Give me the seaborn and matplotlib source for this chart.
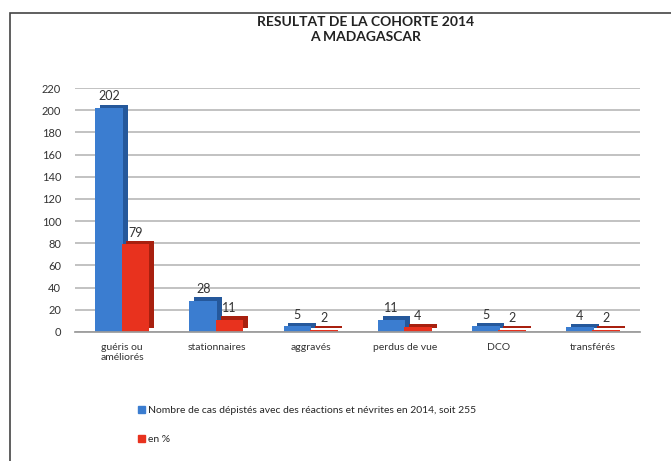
import numpy as np
import pandas as pd
import matplotlib
matplotlib.use("Agg")
import matplotlib.pyplot as plt
import matplotlib.patheffects as pe
from matplotlib.patches import Rectangle
import seaborn as sns

categories = ["guéris ou\naméliorés", "stationnaires", "aggravés", "perdus de vue", "DCO", "transférés"]
nombre_cas = [202, 28, 5, 11, 5, 4]
pourcent = [79, 11, 2, 4, 2, 2]
series_names = ["Nombre de cas dépistés avec des réactions et névrites en 2014, soit 255", "en %"]
yticks = list(range(0, 221, 20))

colors = ["#3b7dd0", "#e8321e"]
side_colors = ["#25589b", "#a8200f"]

df = pd.DataFrame({
    "categorie": categories * 2,
    "valeur": nombre_cas + pourcent,
    "serie": [series_names[0]] * len(categories) + [series_names[1]] * len(categories),
})

sns.set_theme(style="white")
plt.rcParams["font.family"] = ["Lato", "DejaVu Sans"]

fig = plt.figure(figsize=(6.71, 4.61), dpi=100)
ax = fig.add_axes([0.112, 0.28, 0.842, 0.529])

sns.barplot(data=df, x="categorie", y="valeur", hue="serie", palette=colors,
            width=0.56, gap=-0.05, ax=ax, legend=False, saturation=1)

# fake depth: darker offset shadow behind each bar
for container, side in zip(ax.containers, side_colors):
    for bar in container:
        bar.set_edgecolor("none")
        bar.set_path_effects([
            pe.SimplePatchShadow(offset=(3.5, 2.5), shadow_rgbFace=side, alpha=1),
            pe.Normal(),
        ])
    ax.bar_label(container, fmt="%d", padding=4, fontsize=9, color="#333333")

ax.set_ylim(0, 220)
ax.set_yticks(yticks)
ax.yaxis.grid(True, color="#b8b8b8", linewidth=1.2)
ax.set_axisbelow(True)
for s in ["top", "right", "left"]:
    ax.spines[s].set_visible(False)
ax.spines["bottom"].set_color("#9a9a9a")
ax.set_xlabel("")
ax.set_ylabel("")
ax.tick_params(axis="both", labelsize=8, colors="#333333", length=0)
ax.tick_params(axis="y", pad=10)
ax.tick_params(axis="x", pad=8)
for lbl in ax.get_xticklabels():
    lbl.set_fontsize(7.5)

fig.text(0.545, 0.935, "RESULTAT DE LA COHORTE 2014\nA MADAGASCAR", ha="center", va="center",
         fontsize=10, fontweight="bold", color="#222222", linespacing=1.3)

handles = [plt.Rectangle((0, 0), 1, 1, color=c) for c in colors]
fig.legend(handles, series_names, loc="upper left", bbox_to_anchor=(0.2, 1 - 402 / 461),
           frameon=False, fontsize=7.5, handlelength=0.6, handleheight=0.6,
           handletextpad=0.3, labelspacing=1.9, borderaxespad=0)

# outer frame of the original slide
fig.patches.append(Rectangle((10 / 671, -0.1), 1.2, 1 - 13 / 461 + 0.1, transform=fig.transFigure,
                             fill=False, edgecolor="#444444", linewidth=1.2))

fig.savefig("out.png", dpi=100)
plt.close(fig)
